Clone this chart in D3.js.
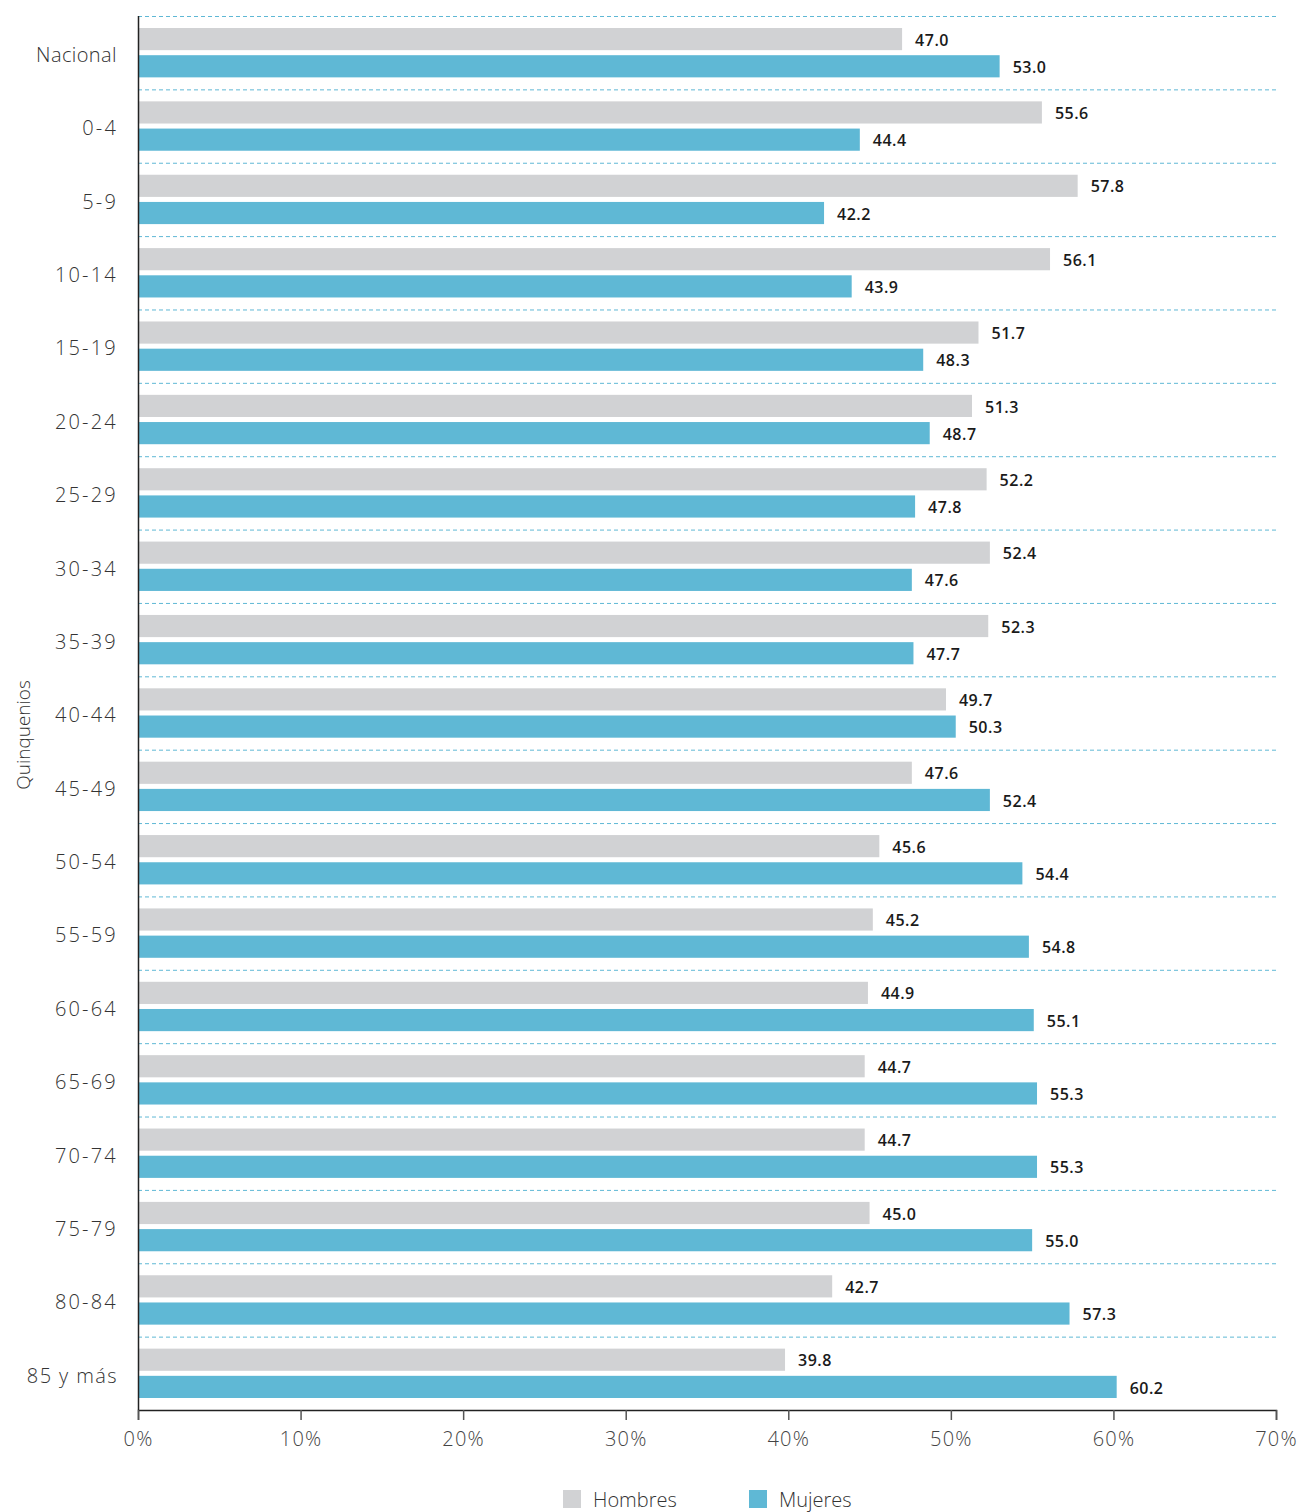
<!DOCTYPE html>
<html>
<head>
<meta charset="utf-8">
<script src="https://cdn.jsdelivr.net/npm/d3@7/dist/d3.min.js"></script>
<style>
  body { margin: 0; background: #fff; }
  svg { display: block; }
</style>
</head>
<body>
<div id="chart"></div>
<script>
// Population share by sex for each five-year age group
const categories = ["Nacional", "0-4", "5-9", "10-14", "15-19", "20-24", "25-29", "30-34", "35-39",
  "40-44", "45-49", "50-54", "55-59", "60-64", "65-69", "70-74", "75-79", "80-84", "85 y más"];
const hombres = [47.0, 55.6, 57.8, 56.1, 51.7, 51.3, 52.2, 52.4, 52.3, 49.7, 47.6, 45.6, 45.2, 44.9, 44.7, 44.7, 45.0, 42.7, 39.8];
const mujeres = [53.0, 44.4, 42.2, 43.9, 48.3, 48.7, 47.8, 47.6, 47.7, 50.3, 52.4, 54.4, 54.8, 55.1, 55.3, 55.3, 55.0, 57.3, 60.2];
const seriesNames = ["Hombres", "Mujeres"];
const xTicks = [0, 10, 20, 30, 40, 50, 60, 70];

const colors = { Hombres: "#d1d2d4", Mujeres: "#5fb8d5" };

const width = 1303, height = 1512;
const margin = { top: 16, right: 27, bottom: 102, left: 138 };

const svg = d3.select("#chart").append("svg")
  .attr("width", width).attr("height", height);

const x = d3.scaleLinear().domain([0, 70]).range([margin.left, width - margin.right]);
const y = d3.scaleBand().domain(categories).range([margin.top, height - margin.bottom]).padding(0);
const inner = d3.scaleBand().domain(seriesNames).range([12, y.bandwidth() - 12]).paddingInner(0.185);

// dashed separators between groups
svg.append("g").selectAll("line")
  .data(categories)
  .join("line")
  .attr("x1", margin.left).attr("x2", width - margin.right)
  .attr("y1", d => y(d) + 0.5).attr("y2", d => y(d) + 0.5)
  .attr("stroke", "#5fb8d5").attr("stroke-width", 1)
  .attr("stroke-dasharray", "4,3");

const rows = categories.map((c, i) => ({ cat: c, Hombres: hombres[i], Mujeres: mujeres[i] }));

const groups = svg.append("g").selectAll("g")
  .data(rows)
  .join("g")
  .attr("transform", d => `translate(0,${y(d.cat)})`);

groups.selectAll("rect")
  .data(d => seriesNames.map(s => ({ s, v: d[s] })))
  .join("rect")
  .attr("x", x(0))
  .attr("y", d => inner(d.s))
  .attr("width", d => x(d.v) - x(0))
  .attr("height", inner.bandwidth())
  .attr("fill", d => colors[d.s]);

groups.selectAll("text.val")
  .data(d => seriesNames.map(s => ({ s, v: d[s] })))
  .join("text")
  .attr("class", "val")
  .attr("x", d => x(d.v) + 13)
  .attr("y", d => inner(d.s) + inner.bandwidth() / 2 + 1)
  .attr("dy", "0.35em")
  .attr("font-family", "'Open Sans', sans-serif")
  .attr("font-size", 16)
  .attr("font-weight", 600)
  .attr("letter-spacing", "0.5px")
  .attr("fill", "#1a1a1a")
  .text(d => d.v.toFixed(1));

// category labels (numeric labels are set with wider tracking)
const isRange = d => /^[0-9]+-[0-9]+$/.test(d);
const tracking = d => isRange(d) ? "2.2px" : (/^[0-9]/.test(d) ? "1.4px" : "0.4px");
svg.append("g").selectAll("text")
  .data(categories)
  .join("text")
  .attr("x", d => /^[0-9]/.test(d) ? 118 : 117)
  .attr("y", d => y(d) + 39)
  .attr("dy", "0.35em")
  .attr("text-anchor", "end")
  .attr("font-family", "'Open Sans', sans-serif")
  .attr("font-size", 20)
  .attr("font-weight", 300)
  .attr("letter-spacing", tracking)
  .attr("fill", "#333")
  .text(d => d);

// left axis line
svg.append("line")
  .attr("x1", margin.left + 0.5).attr("x2", margin.left + 0.5)
  .attr("y1", margin.top).attr("y2", height - margin.bottom)
  .attr("stroke", "#222").attr("stroke-width", 1.5);

// bottom axis
const xAxis = svg.append("g")
  .attr("transform", `translate(0,${height - margin.bottom})`)
  .call(d3.axisBottom(x).tickValues(xTicks).tickSize(10).tickPadding(12).tickFormat(d => d + "%"));
xAxis.select(".domain").attr("stroke", "#222").attr("stroke-width", 1.5);
xAxis.selectAll(".tick line").attr("stroke", "#555").attr("stroke-width", 1.5);
xAxis.selectAll(".tick text")
  .attr("font-family", "'Open Sans', sans-serif")
  .attr("font-size", 20)
  .attr("font-weight", 300)
  .attr("letter-spacing", "1.2px")
  .attr("fill", "#444");

// y-axis title
svg.append("text")
  .attr("transform", `translate(23,${735}) rotate(-90)`)
  .attr("text-anchor", "middle")
  .attr("dy", "0.35em")
  .attr("font-family", "'Open Sans', sans-serif")
  .attr("font-size", 19)
  .attr("font-weight", 300)
  .attr("fill", "#333")
  .text("Quinquenios");

// legend
const legendPos = [563, 749];
const legend = svg.append("g").selectAll("g")
  .data(seriesNames)
  .join("g")
  .attr("transform", (d, i) => `translate(${legendPos[i]},1490)`);
legend.append("rect").attr("width", 18).attr("height", 18).attr("fill", d => colors[d]);
legend.append("text")
  .attr("x", 30).attr("y", 10).attr("dy", "0.35em")
  .attr("font-family", "'Open Sans', sans-serif")
  .attr("font-size", 20)
  .attr("font-weight", 300)
  .attr("fill", "#333")
  .text(d => d);
</script>
</body>
</html>
